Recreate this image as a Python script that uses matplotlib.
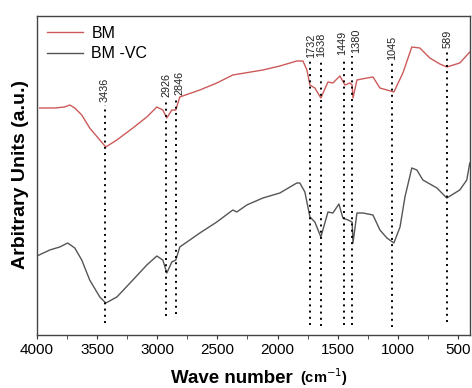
import numpy as np
import matplotlib
matplotlib.use("Agg")
import matplotlib.pyplot as plt
from matplotlib.ticker import MultipleLocator

plt.rcParams['font.family'] = ['Liberation Sans', 'DejaVu Sans']

# BM spectrum (wavenumber, arbitrary intensity)
bm_wn = [3978, 3853, 3770, 3728, 3686, 3628, 3562, 3478, 3428, 3336, 3203, 3087,
         3004, 2954, 2921, 2879, 2846, 2813, 2646, 2505, 2372, 2122, 1981, 1840,
         1789, 1756, 1731, 1690, 1640, 1581, 1540, 1482, 1440, 1398, 1380, 1373,
         1340, 1257, 1207, 1149, 1091, 1033, 958, 884, 817, 734, 651, 593, 485, 402]
bm_int = [227, 227, 228, 230, 227, 220, 207, 195, 188, 195, 207, 218,
          228, 225, 217, 225, 225, 238, 245, 252, 260, 265, 269, 274,
          274, 265, 250, 247, 237, 253, 252, 259, 250, 252, 250, 237,
          255, 257, 258, 247, 245, 243, 262, 288, 287, 277, 271, 268, 272, 283]

# BM-VC spectrum
vc_wn = [4000, 3894, 3811, 3745, 3686, 3628, 3562, 3478, 3428, 3336, 3203, 3087,
         3004, 2954, 2921, 2879, 2846, 2813, 2646, 2505, 2372, 2339, 2256, 2122,
         1981, 1840, 1815, 1773, 1731, 1690, 1640, 1581, 1540, 1490, 1457, 1415,
         1380, 1373, 1340, 1290, 1207, 1149, 1091, 1033, 982, 941, 884, 842, 792,
         675, 593, 485, 427, 402]
vc_int = [79, 85, 88, 92, 87, 75, 55, 38, 32, 38, 55, 70,
          79, 75, 62, 73, 75, 88, 102, 113, 125, 123, 130, 137,
          142, 152, 152, 143, 118, 113, 98, 123, 122, 131, 117, 115,
          113, 92, 122, 122, 120, 105, 97, 92, 108, 138, 167, 165, 155,
          147, 137, 145, 155, 172]

# marked bands
peaks = [3436, 2926, 2846, 1732, 1638, 1449, 1380, 1045, 589]
peak_label_y = [233, 238, 240, 277, 278, 280, 282, 275, 287]
peak_line_bottom = [12, 19, 21, 10, 9, 10, 10, 8, 13]
label_dx = [0, 0, 3, 1, 0, -1, 3, 0, 0]  # small nudges in points

fig = plt.figure(figsize=(4.72, 3.88), dpi=100)
ax = fig.add_axes([0.0784, 0.1366, 0.9174, 0.8222])

ax.plot(bm_wn, bm_int, color='#cc5a5a', lw=1.0, label='BM')
ax.plot(vc_wn, vc_int, color='#555555', lw=1.0, label='BM -VC')

for p, ly, lb, dx in zip(peaks, peak_label_y, peak_line_bottom, label_dx):
    ax.plot([p, p], [lb, ly - 3], color='black', lw=1.4, linestyle=(0, (1, 2.2)))
    ax.annotate(str(p), xy=(p, ly), xytext=(dx, 0), textcoords='offset points',
                rotation=90, ha='center', va='bottom', fontsize=7.8, color='#222222')

ax.set_xlim(4000, 400)
ax.set_ylim(0, 319)
ax.xaxis.set_major_locator(MultipleLocator(500))
ax.xaxis.set_minor_locator(MultipleLocator(250))
ax.tick_params(axis='x', which='both', direction='out', length=3, labelsize=11,
               color='#333333', pad=3)
ax.set_yticks([])
for s in ax.spines.values():
    s.set_color('#444444')
    s.set_linewidth(1.0)

ax.legend(loc='upper left', frameon=False, fontsize=11.5, handlelength=2.3,
          borderaxespad=0.2, labelspacing=0.35, handletextpad=0.5)

fig.text(232 / 472, 1 - 383 / 388, 'Wave number', fontsize=13.5, fontweight='bold',
         ha='center', va='baseline')
fig.text(300 / 472, 1 - 383 / 388, '(cm$^{-1}$)', fontsize=10.5, fontweight='bold',
         ha='left', va='baseline')
fig.text(21 / 472, 0.55, 'Arbitrary Units (a.u.)', fontsize=14, fontweight='bold',
         rotation=90, ha='center', va='center')

fig.savefig('out.png', dpi=100)
